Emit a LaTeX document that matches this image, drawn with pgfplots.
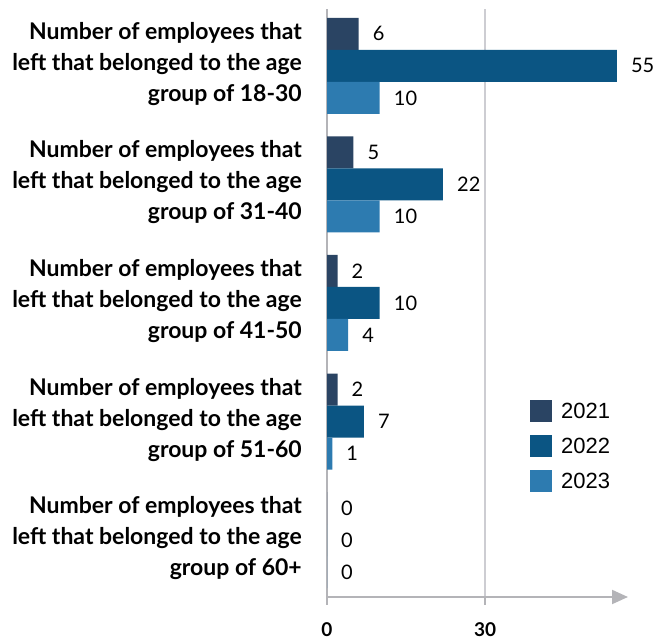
\documentclass[border=0pt]{standalone}
\usepackage{fontspec}
\setmainfont{Lato}
\newfontfamily\arialf{Liberation Sans}
\usepackage{pgfplots}
\pgfplotsset{compat=1.18}
\usetikzlibrary{arrows.meta}
\definecolor{cA}{HTML}{2A4463}
\definecolor{cB}{HTML}{0B5583}
\definecolor{cC}{HTML}{2D7BB0}
\definecolor{axgrey}{HTML}{B4B4B8}
\definecolor{gridgrey}{HTML}{CDCDD2}
\begin{document}
\begin{tikzpicture}
\useasboundingbox (0,0) rectangle (666pt,639pt);
\begin{axis}[
  at={(327pt,42pt)}, anchor=south west,
  scale only axis, width=301pt, height=588pt,
  xbar, bar width=32pt,
  xmin=0, xmax=57.1, ymin=-0.48, ymax=4.48,
  /pgf/number format/assume math mode=true,
  axis x line=bottom, axis y line=left,
  x axis line style={draw=axgrey, line width=2pt, -{Triangle[length=16pt,width=14pt]}},
  y axis line style={draw=axgrey, line width=2pt, -},
  xtick={0,30}, xticklabels={\textbf{0},\textbf{30}},
  xtick style={draw=axgrey, line width=1.5pt},
  tick align=outside, major tick length=8pt,
  xticklabel style={font=\fontsize{19}{20}\selectfont, yshift=-14pt},
  xmajorgrids, grid style={draw=gridgrey, line width=1.5pt},
  ytick={0,1,2,3,4},
  ytick style={draw=none},
  yticklabels={
    {Number of employees that\\left that belonged to the age\\group of 60+},
    {Number of employees that\\left that belonged to the age\\group of 51-60},
    {Number of employees that\\left that belonged to the age\\group of 41-50},
    {Number of employees that\\left that belonged to the age\\group of 31-40},
    {Number of employees that\\left that belonged to the age\\group of 18-30}},
  yticklabel style={align=right, anchor=east, inner sep=0pt, font=\bfseries\fontsize{23}{31}\selectfont, xshift=-17pt, yshift=2pt},
  nodes near coords,
  nodes near coords style={anchor=west, inner sep=0pt, xshift=14pt, font=\fontsize{20}{22}\selectfont, text=black},
  legend image code/.code={\fill[#1] (0pt,-11pt) rectangle (22pt,11pt);},
  legend style={at={(0.674,0.335)}, anchor=north west, draw=none, fill=none, inner sep=0pt,
    font=\arialf\fontsize{22}{22}\selectfont, row sep=13pt,
    nodes={inner sep=0pt, anchor=west}},
  legend cell align=left,
]
\addplot[fill=cA, draw=none, bar shift=32pt] coordinates {(6,4) (5,3) (2,2) (2,1) (0,0)};
\addplot[fill=cB, draw=none, bar shift=0pt] coordinates {(55,4) (22,3) (10,2) (7,1) (0,0)};
\addplot[fill=cC, draw=none, bar shift=-32pt] coordinates {(10,4) (10,3) (4,2) (1,1) (0,0)};
\legend{\hspace{9pt}2021,\hspace{9pt}2022,\hspace{9pt}2023}
\end{axis}
\end{tikzpicture}
\end{document}
